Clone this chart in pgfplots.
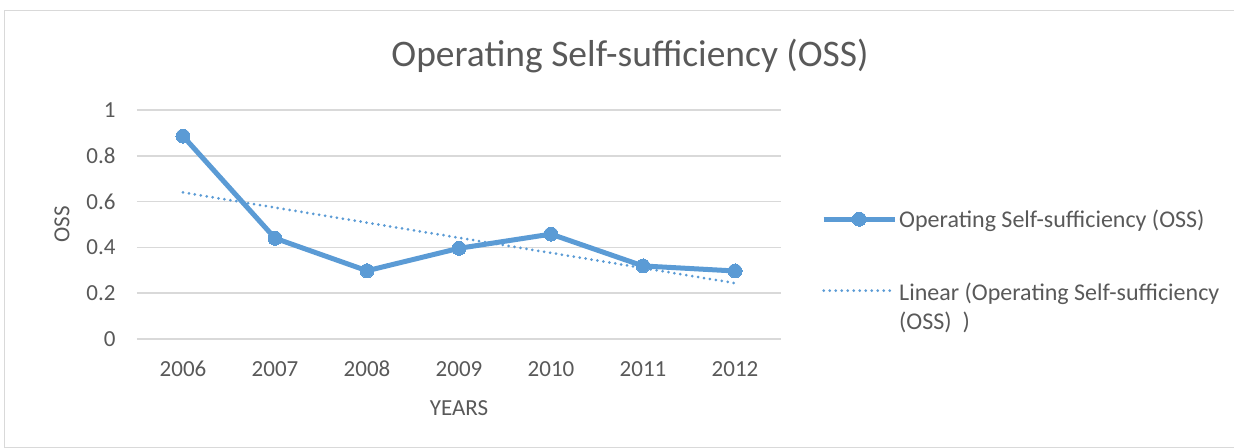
\documentclass[border=0pt]{standalone}
\usepackage{pgfplots}
\pgfplotsset{compat=1.18}
\usepackage{fontspec}
\setmainfont{Carlito}
\definecolor{oss}{HTML}{5B9BD5}
\definecolor{txt}{HTML}{595959}
\definecolor{grd}{HTML}{D9D9D9}
\begin{document}
\begin{tikzpicture}
\useasboundingbox (-137bp,-109bp) rectangle (1097bp,339bp);
\draw[grd,line width=1bp] (-132bp,-108bp) rectangle (1097bp,328bp);
\begin{axis}[
  at={(0,0)}, anchor=south west,
  scale only axis, width=644bp, height=229bp,
  xmin=-0.5, xmax=6.5, ymin=0, ymax=1,
  xtick={0,1,2,3,4,5,6},
  xticklabels={2006,2007,2008,2009,2010,2011,2012},
  ytick={0,0.2,0.4,0.6,0.8,1},
  yticklabels={0,0.2,0.4,0.6,0.8,1},
  axis line style={draw=none},
  tick style={draw=none},
  ymajorgrids, grid style={grd,line width=1.5bp},
  ticklabel style={font=\fontsize{23bp}{26bp}\selectfont, text=txt},
  xticklabel style={anchor=center, yshift=-30bp},
  yticklabel style={anchor=east, xshift=-18bp},
  xlabel={YEARS}, ylabel={OSS},
  label style={font=\fontsize{23bp}{26bp}\selectfont, text=txt},
  xlabel style={at={(axis description cs:0.5,-0.3013)}, anchor=center},
  ylabel style={at={(axis description cs:-0.1165,0.5)}, anchor=center},
  title={Operating Self-sufficiency (OSS)},
  title style={font=\fontsize{37.5bp}{40bp}\selectfont, text=txt, at={(axis description cs:0.7655,1.2096)}, anchor=center},
  legend style={draw=none, fill=none, at={(axis description cs:1,0.528)}, anchor=west, xshift=40bp, yshift=-37.5bp,
    font=\fontsize{24bp}{29bp}\selectfont, text=txt, row sep=47bp, inner sep=0pt,
    nodes={inner sep=2bp}},
  legend cell align=left,
  legend image code/.code={\draw[mark repeat=2, mark phase=2, #1] plot coordinates {(0bp,0bp) (35.5bp,0bp) (71bp,0bp)};},
  clip=false,
]
\addplot[oss, line width=5bp, mark=*, mark size=7bp, mark options={solid, line width=0pt}]
  coordinates {(0,0.886) (1,0.440) (2,0.298) (3,0.396) (4,0.458) (5,0.319) (6,0.297)};
\addlegendentry{Operating Self-sufficiency (OSS)}
\addplot[oss, line width=3bp, dash pattern=on 0bp off 6bp, line cap=round]
  coordinates {(0,0.640) (6,0.244)};
\addlegendentry{\begin{tabular}[t]{@{}l@{}}Linear (Operating Self-sufficiency\\(OSS)\ \ )\end{tabular}}
\end{axis}
\end{tikzpicture}
\end{document}
